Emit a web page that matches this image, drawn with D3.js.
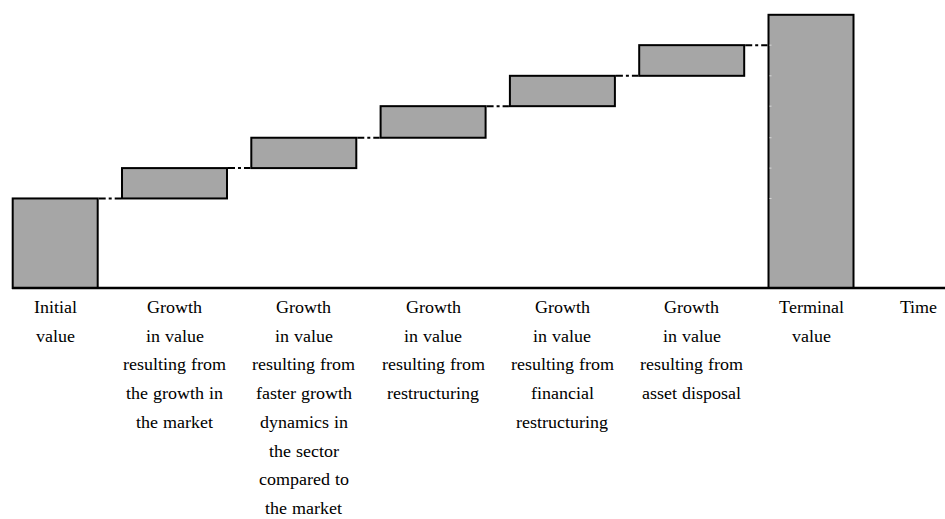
<!DOCTYPE html>
<html><head><meta charset="utf-8">
<script src="https://cdn.jsdelivr.net/npm/d3@7"></script>
<style>
@font-face{font-family:"ChartSerif";src:local("Liberation Serif"),local("LiberationSerif"),local("LiberationSerif-Regular"),local("Times New Roman"),local("Tinos"),local("DejaVu Serif");}
body{margin:0;background:#fff}
</style>
</head><body>
<svg id="c" width="945" height="519"></svg>
<script>
const categories = ["initial","market","sector","restructuring","financial","disposal","terminal"];
const labels = [
  ["Initial","value"],
  ["Growth","in value","resulting from","the growth in","the market"],
  ["Growth","in value","resulting from","faster growth","dynamics in","the sector","compared to","the market"],
  ["Growth","in value","resulting from","restructuring"],
  ["Growth","in value","resulting from","financial","restructuring"],
  ["Growth","in value","resulting from","asset disposal"],
  ["Terminal","value"]
];
const initialValue = 2.95;
const growthValues = [1.0, 1.0, 1.04, 1.0, 1.01];
const terminalValue = 9.0;
const axisLabel = "Time";

const FONT = '"ChartSerif", "Liberation Serif", "Times New Roman", Tinos, Times, "DejaVu Serif"';
const svg = d3.select("#c");
const x = d3.scaleBand().domain(categories).range([-19.45, 885.65]).paddingInner(0.188).paddingOuter(0.094);
const y = d3.scaleLinear().domain([0, 9]).range([288, 14.8]);
const endW = 85;

const bars = [];
let cum = initialValue;
bars.push({cat: categories[0], y0: 0, y1: initialValue, x0: x(categories[0]) + x.bandwidth() - endW, w: endW});
growthValues.forEach((g, i) => {
  bars.push({cat: categories[i+1], y0: cum, y1: cum + g, x0: x(categories[i+1]), w: x.bandwidth()});
  cum += g;
});
bars.push({cat: categories[6], y0: 0, y1: terminalValue, x0: x(categories[6]), w: endW});

for (let i = 0; i < bars.length - 1; i++) {
  const a = bars[i], b = bars[i+1];
  svg.append("line")
    .attr("x1", a.x0 + a.w + 1).attr("x2", b.x0 - 1)
    .attr("y1", y(a.y1)).attr("y2", y(a.y1))
    .attr("stroke", "#000").attr("stroke-width", 2)
    .attr("stroke-dasharray", "7,3,3,3");
}

svg.selectAll("rect.bar").data(bars).enter().append("rect")
  .attr("class", "bar")
  .attr("x", d => d.x0).attr("width", d => d.w)
  .attr("y", d => y(d.y1)).attr("height", d => y(d.y0) - y(d.y1))
  .attr("fill", "#a6a6a6").attr("stroke", "#000").attr("stroke-width", 2);

const term = bars[6];
svg.selectAll("line.tk").data(bars.slice(0, 6)).enter().append("line")
  .attr("x1", term.x0 + 1).attr("x2", term.x0 + 3)
  .attr("y1", d => y(d.y1)).attr("y2", d => y(d.y1))
  .attr("stroke", "#d8d8d8").attr("stroke-width", 1);

svg.append("line").attr("x1", 12).attr("x2", 945)
  .attr("y1", y(0)).attr("y2", y(0))
  .attr("stroke", "#000").attr("stroke-width", 2.5);

const lh = 28.7;
function label(cx, cy, s) {
  svg.append("text").attr("x", cx).attr("y", cy)
    .attr("text-anchor", "middle")
    .style("font-family", FONT).style("font-size", "17.7px")
    .text(s);
}
bars.forEach((b, i) => {
  labels[i].forEach((l, j) => label(b.x0 + b.w / 2, 313 + j * lh, l));
});
label(918, 313, axisLabel);
</script>
</body></html>
